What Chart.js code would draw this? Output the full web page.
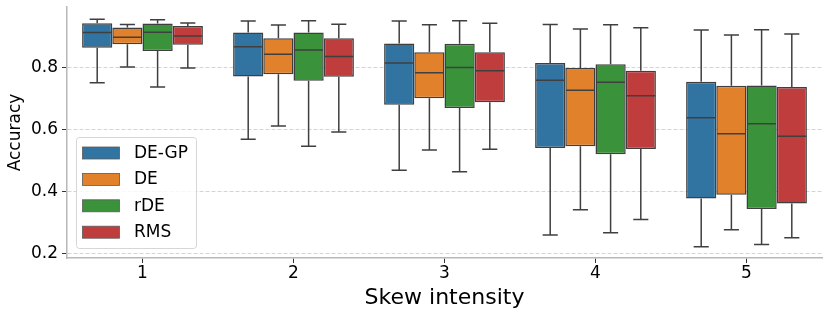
<!DOCTYPE html>
<html>
<head>
<meta charset="utf-8">
<script src="https://cdn.jsdelivr.net/npm/chart.js@4/dist/chart.umd.min.js"></script>
<style>
html,body{margin:0;padding:0;background:#fff;}
#wrap{width:830px;height:318px;}
</style>
</head>
<body>
<div id="wrap"><canvas id="c" width="830" height="318"></canvas></div>
<script>
// ---- data ----
const categories = ['1', '2', '3', '4', '5'];
const seriesNames = ['DE-GP', 'DE', 'rDE', 'RMS'];
const yTickValues = [0.2, 0.4, 0.6, 0.8];

const degpLow  = [0.750, 0.568, 0.469, 0.261, 0.223];
const degpQ1   = [0.862, 0.770, 0.679, 0.540, 0.378];
const degpMed  = [0.911, 0.865, 0.813, 0.758, 0.637];
const degpQ3   = [0.941, 0.911, 0.876, 0.813, 0.753];
const degpHigh = [0.954, 0.948, 0.948, 0.937, 0.919];

const deLow  = [0.800, 0.611, 0.534, 0.342, 0.278];
const deQ1   = [0.873, 0.777, 0.700, 0.546, 0.390];
const deMed  = [0.896, 0.841, 0.782, 0.726, 0.586];
const deQ3   = [0.927, 0.893, 0.848, 0.797, 0.740];
const deHigh = [0.937, 0.935, 0.936, 0.922, 0.903];

const rdeLow  = [0.736, 0.546, 0.464, 0.268, 0.230];
const rdeQ1   = [0.852, 0.756, 0.669, 0.520, 0.344];
const rdeMed  = [0.912, 0.855, 0.799, 0.751, 0.618];
const rdeQ3   = [0.940, 0.911, 0.875, 0.809, 0.741];
const rdeHigh = [0.952, 0.949, 0.949, 0.936, 0.920];

const rmsLow  = [0.797, 0.592, 0.536, 0.311, 0.252];
const rmsQ1   = [0.872, 0.769, 0.687, 0.537, 0.362];
const rmsMed  = [0.900, 0.834, 0.788, 0.708, 0.578];
const rmsQ3   = [0.932, 0.893, 0.848, 0.788, 0.736];
const rmsHigh = [0.942, 0.938, 0.941, 0.926, 0.906];

// ---- styling ----
const colors = ['#3274a1', '#e1812c', '#3a923a', '#c03d3e'];
const edge = '#3f3f3f';
const FONT = 'DejaVu Sans';

const stats = [
  {low: degpLow, q1: degpQ1, med: degpMed, q3: degpQ3, high: degpHigh},
  {low: deLow, q1: deQ1, med: deMed, q3: deQ3, high: deHigh},
  {low: rdeLow, q1: rdeQ1, med: rdeMed, q3: rdeQ3, high: rdeHigh},
  {low: rmsLow, q1: rmsQ1, med: rmsMed, q3: rmsQ3, high: rmsHigh}
];

const datasets = stats.map((s, i) => ({
  label: seriesNames[i],
  data: categories.map((c, j) => [s.q1[j], s.q3[j]]),
  backgroundColor: colors[i],
  borderColor: edge,
  borderWidth: 1.5,
  borderSkipped: false,
  categoryPercentage: 0.8,
  barPercentage: 1.0
}));

const boxPlugin = {
  id: 'boxParts',
  afterDatasetsDraw(chart) {
    const ctx = chart.ctx;
    const y = chart.scales.y;
    ctx.save();
    ctx.strokeStyle = edge;
    ctx.lineWidth = 1.5;
    ctx.setLineDash([]);
    stats.forEach((s, i) => {
      const meta = chart.getDatasetMeta(i);
      meta.data.forEach((el, j) => {
        const x = el.x, w = el.width;
        const yMed = y.getPixelForValue(s.med[j]);
        const yQ1 = y.getPixelForValue(s.q1[j]);
        const yQ3 = y.getPixelForValue(s.q3[j]);
        const yLo = y.getPixelForValue(s.low[j]);
        const yHi = y.getPixelForValue(s.high[j]);
        ctx.beginPath();
        ctx.moveTo(x - w / 2 + 0.75, yMed); ctx.lineTo(x + w / 2 - 0.75, yMed);
        ctx.moveTo(x, yQ3); ctx.lineTo(x, yHi);
        ctx.moveTo(x, yQ1); ctx.lineTo(x, yLo);
        ctx.moveTo(x - w / 4, yHi); ctx.lineTo(x + w / 4, yHi);
        ctx.moveTo(x - w / 4, yLo); ctx.lineTo(x + w / 4, yLo);
        ctx.stroke();
      });
    });
    ctx.restore();
  }
};

const legendPlugin = {
  id: 'insideLegend',
  afterDraw(chart) {
    const ctx = chart.ctx;
    ctx.save();
    ctx.setLineDash([]);
    const bx = 76, by = 137, bw = 121, bh = 112, r = 3;
    ctx.fillStyle = 'rgba(255,255,255,0.8)';
    ctx.strokeStyle = '#d6d6d6';
    ctx.lineWidth = 1;
    ctx.beginPath();
    ctx.moveTo(bx + r, by + 0.5);
    ctx.lineTo(bx + bw - r, by + 0.5);
    ctx.arcTo(bx + bw - 0.5, by + 0.5, bx + bw - 0.5, by + r, r);
    ctx.lineTo(bx + bw - 0.5, by + bh - r);
    ctx.arcTo(bx + bw - 0.5, by + bh - 0.5, bx + bw - r, by + bh - 0.5, r);
    ctx.lineTo(bx + r, by + bh - 0.5);
    ctx.arcTo(bx + 0.5, by + bh - 0.5, bx + 0.5, by + bh - r, r);
    ctx.lineTo(bx + 0.5, by + r);
    ctx.arcTo(bx + 0.5, by + 0.5, bx + r, by + 0.5, r);
    ctx.closePath();
    ctx.fill();
    ctx.stroke();
    ctx.font = '17px "' + FONT + '"';
    ctx.textBaseline = 'middle';
    ctx.textAlign = 'left';
    chart.data.datasets.forEach((ds, i) => {
      const cy = 153 + i * 26.4;
      ctx.fillStyle = ds.backgroundColor;
      ctx.fillRect(82.5, cy - 6, 37, 12);
      ctx.strokeStyle = '#5a5a5a';
      ctx.lineWidth = 0.8;
      ctx.strokeRect(82.5, cy - 6, 37, 12);
      ctx.fillStyle = '#000';
      ctx.fillText(ds.label, 134, cy + 0.5);
    });
    ctx.restore();
  }
};

new Chart(document.getElementById('c'), {
  type: 'bar',
  data: { labels: categories, datasets },
  plugins: [boxPlugin, legendPlugin],
  options: {
    responsive: false,
    devicePixelRatio: 1,
    animation: false,
    layout: { padding: { top: 7, right: 8, left: 0, bottom: 0 } },
    plugins: { legend: { display: false }, tooltip: { enabled: false } },
    scales: {
      x: {
        type: 'category',
        grid: { display: true, drawOnChartArea: false, offset: false, tickLength: 5, tickColor: '#333', tickWidth: 1 },
        border: { display: true, color: '#b8b8b8', width: 1.5 },
        ticks: { color: '#000', font: { family: FONT, size: 17 }, padding: 0 },
        title: { display: true, text: 'Skew intensity', color: '#000', font: { family: FONT, size: 22 }, padding: { top: 0, bottom: 7 } },
        afterFit(scale) { scale.height = 60; scale.paddingLeft = 0; scale.paddingRight = 0; }
      },
      y: {
        min: 0.187,
        max: 0.993,
        afterBuildTicks(scale) { scale.ticks = yTickValues.map(v => ({ value: v })); },
        grid: { color: '#d4d4d4', lineWidth: 1, tickLength: 5, tickColor: '#333', tickWidth: 1, tickBorderDash: [] },
        border: { display: true, color: '#b8b8b8', width: 1.5, dash: [4, 2] },
        ticks: { color: '#000', font: { family: FONT, size: 17 }, padding: 4, callback: v => Number(v).toFixed(1) },
        title: { display: true, text: 'Accuracy', color: '#000', font: { family: FONT, size: 17 }, padding: { top: 5, bottom: 0 } },
        afterFit(scale) { scale.width = 67; scale.paddingTop = 0; scale.paddingBottom = 0; }
      }
    }
  }
});
</script>
</body>
</html>
